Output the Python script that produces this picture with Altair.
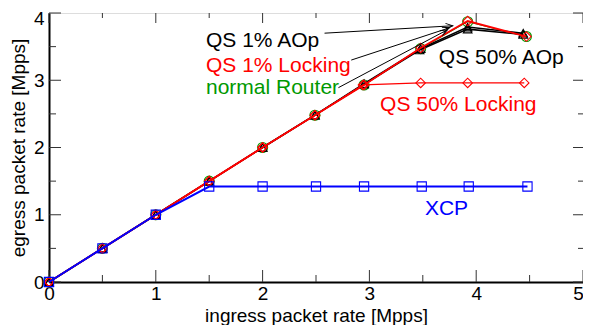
import math
import altair as alt
import pandas as pd

# ---------------- data ----------------
x_router = [0, 0.5, 1, 1.5, 2, 2.49, 2.95, 3.48, 3.92, 4.47]
y_router = [0, 0.5, 1, 1.5, 2, 2.48, 2.93, 3.47, 3.87, 3.65]

x_qs1_lock = [0, 0.5, 1, 1.5, 2, 2.49, 2.95, 3.48, 3.92, 4.47]
y_qs1_lock = [0, 0.5, 1, 1.5, 2, 2.48, 2.93, 3.48, 3.88, 3.65]

x_qs50_lock = [0, 0.5, 1, 1.5, 2, 2.49, 2.94, 3.48, 3.92, 4.45]
y_qs50_lock = [0, 0.5, 1, 1.5, 2, 2.48, 2.93, 2.96, 2.96, 2.96]

x_qs1_aop = [0, 0.5, 1, 1.5, 2, 2.49, 2.95, 3.48, 3.92, 4.44]
y_qs1_aop = [0, 0.5, 1, 1.5, 2, 2.48, 2.95, 3.47, 3.79, 3.70]

x_qs50_aop = [0, 0.5, 1, 1.5, 2, 2.49, 2.95, 3.47, 3.92, 4.44]
y_qs50_aop = [0, 0.5, 1, 1.5, 2, 2.48, 2.94, 3.45, 3.76, 3.68]

x_xcp = [0, 0.5, 1, 1.5, 2, 2.5, 2.95, 3.49, 3.93, 4.48]
y_xcp = [0, 0.5, 1, 1.42, 1.42, 1.42, 1.42, 1.42, 1.42, 1.42]

x_tick_major = [0, 1, 2, 3, 4, 5]
x_tick_minor = [0.5, 1.5, 2.5, 3.5, 4.5]
y_tick_major = [0, 1, 2, 3, 4]
y_tick_minor = [0.5, 1.5, 2.5, 3.5]

label_text = ["QS 1% AOp", "QS 1% Locking", "normal Router",
              "QS 50% AOp", "QS 50% Locking", "XCP"]
label_x = [1.47, 1.47, 1.47, 3.65, 3.10, 3.52]
label_y = [3.50, 3.12, 2.79, 3.24, 2.54, 0.99]
label_color = ["black", "red", "#009900", "black", "red", "blue"]

arrow_x1 = [2.58, 2.83, 2.71]
arrow_y1 = [3.70, 3.30, 2.89]
arrow_x2 = [3.78, 3.75, 3.73]
arrow_y2 = [3.81, 3.78, 3.75]

# ---------------- layout ----------------
W, H = 534, 269
FONT = "Liberation Sans"
kx, ky = W / 5.0, H / 4.0

xs = alt.Scale(domain=[0, 5], nice=False, zero=False)
ys = alt.Scale(domain=[0, 4], nice=False, zero=False)

x_axis = alt.Axis(values=x_tick_major, format="d", ticks=False, grid=False,
                  domain=True, domainColor="black", domainWidth=2,
                  labelFont=FONT, labelFontSize=19, labelColor="black",
                  labelPadding=2, labelFlush=False,
                  labelOffset={"condition": {"test": "datum.value == 5", "value": -5},
                               "value": 0},
                  title="ingress packet rate [Mpps]", titleFont=FONT,
                  titleFontSize=19, titleFontWeight="normal",
                  titleColor="black", titleBaseline="alphabetic", titleY=39)
y_axis = alt.Axis(values=y_tick_major, format="d", ticks=False, grid=False,
                  domain=True, domainColor="black", domainWidth=2,
                  labelFont=FONT, labelFontSize=19, labelColor="black",
                  labelPadding=5, labelFlush=False,
                  labelOffset={"condition": {"test": "datum.value == 4", "value": 5},
                               "value": 0},
                  title="egress packet rate [Mpps]", titleFont=FONT,
                  titleFontSize=19, titleFontWeight="normal",
                  titleColor="black", titlePadding=5)

X = alt.X("x:Q", scale=xs, axis=x_axis)
Y = alt.Y("y:Q", scale=ys, axis=y_axis)

layers = []


def vticks(vals, length, side):
    df = pd.DataFrame({"x": vals})
    if side == "bottom":
        enc = dict(y=alt.value(H), y2=alt.value(H - length))
    else:
        enc = dict(y=alt.value(0), y2=alt.value(length))
    return alt.Chart(df).mark_rule(color="#333333", strokeWidth=1).encode(
        x=alt.X("x:Q", scale=xs, axis=x_axis), **enc)


def hticks(vals, length, side):
    df = pd.DataFrame({"y": vals})
    if side == "left":
        enc = dict(x=alt.value(0), x2=alt.value(length))
    else:
        enc = dict(x=alt.value(W), x2=alt.value(W - length))
    return alt.Chart(df).mark_rule(color="#333333", strokeWidth=1).encode(
        y=alt.Y("y:Q", scale=ys, axis=y_axis), **enc)


layers += [vticks(x_tick_major, 12, "bottom"), vticks(x_tick_minor, 7, "bottom"),
           vticks(x_tick_major, 10, "top"), vticks(x_tick_minor, 5, "top"),
           hticks(y_tick_major, 12, "left"), hticks(y_tick_minor, 7, "left"),
           hticks(y_tick_major, 10, "right"), hticks(y_tick_minor, 5, "right")]


def series(xv, yv, color, shape, lw, size):
    df = pd.DataFrame({"x": xv, "y": yv})
    base = alt.Chart(df).encode(x=X, y=Y)
    return [base.mark_line(color=color, strokeWidth=lw),
            base.mark_point(shape=shape, color=color, filled=False,
                            size=size, strokeWidth=1.1, opacity=1)]


layers += series(x_router, y_router, "#009900", "circle", 1, 100)
layers += series(x_qs50_aop, y_qs50_aop, "black", "triangle-up", 1.5, 75)
layers += series(x_qs1_aop, y_qs1_aop, "black", "triangle-up", 1.5, 75)
layers += series(x_qs50_lock, y_qs50_lock, "red", "diamond", 1.3, 90)
layers += series(x_qs1_lock, y_qs1_lock, "red", "diamond", 1.8, 90)
layers += series(x_xcp, y_xcp, "blue", "square", 2, 85)

# arrows
angles = [(math.degrees(math.atan2(-(y2 - y1) * ky, (x2 - x1) * kx)) + 360) % 360
          for x1, y1, x2, y2 in zip(arrow_x1, arrow_y1, arrow_x2, arrow_y2)]
arr = pd.DataFrame({"x": arrow_x1, "y": arrow_y1, "x2": arrow_x2,
                    "y2": arrow_y2, "angle": angles})
layers.append(alt.Chart(arr).mark_rule(color="black", strokeWidth=1).encode(
    x=X, y=Y, x2="x2:Q", y2="y2:Q"))
layers.append(alt.Chart(arr).mark_point(
    shape="M -1 -0.4 L 0 0 L -1 0.4", filled=False, color="black",
    size=200, strokeWidth=1, opacity=1).encode(
    x=alt.X("x2:Q", scale=xs, axis=x_axis), y=alt.Y("y2:Q", scale=ys, axis=y_axis),
    angle=alt.Angle("angle:Q", scale=None)))

# labels
lab = pd.DataFrame({"x": label_x, "y": label_y, "t": label_text, "c": label_color})
layers.append(alt.Chart(lab).mark_text(
    align="left", baseline="alphabetic", font=FONT, fontSize=21).encode(
    x=X, y=Y, text="t:N", color=alt.Color("c:N", scale=None)))

chart = alt.layer(*layers).properties(
    width=W, height=H,
    autosize=alt.AutoSizeParams(type="none"),
    padding={"left": 41, "top": 5, "right": 0, "bottom": 43},
).configure_view(stroke="black", strokeWidth=1.5).configure(background="white")

chart.save("out.html", embed_options={"renderer": "svg", "actions": False})
